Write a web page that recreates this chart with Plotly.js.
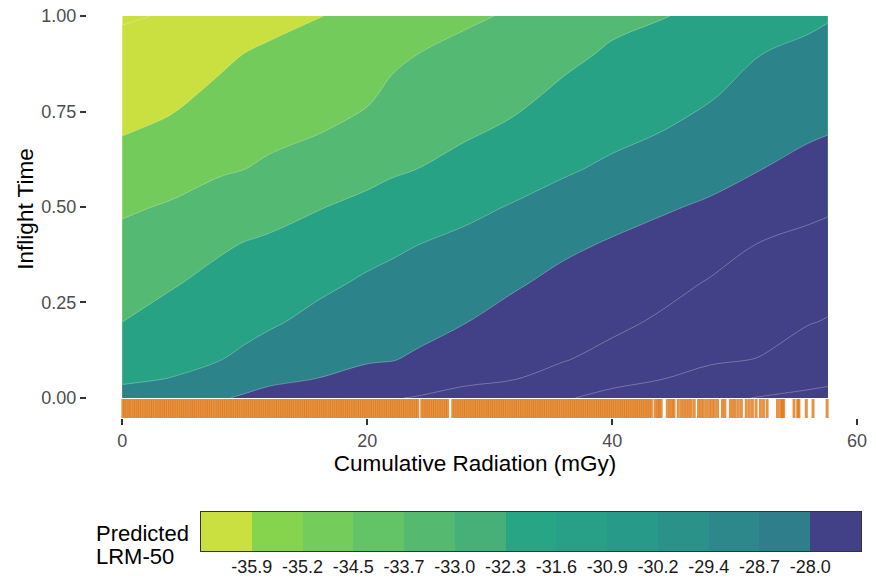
<!DOCTYPE html>
<html>
<head>
<meta charset="utf-8">
<script src="https://cdn.plot.ly/plotly-3.0.1.min.js"></script>
<style>html,body{margin:0;padding:0;background:#fff;}#chart{width:876px;height:584px;}</style>
</head>
<body>
<div id="chart"></div>
<script>
// ---- Data ----
// Grid of the predicted surface
const radiation = [0, 4, 8, 10, 12, 16, 20, 22, 24, 28, 32, 36, 40, 44, 48, 52, 56, 57.6];
const inflightTime = [0, 0.05, 0.1, 0.2, 0.3, 0.4, 0.5, 0.6, 0.7, 0.8, 0.9, 1.0];
// Predicted LRM-50, one row per inflight-time value
const lrm_t000 = [-31.15,-30.75,-30.25,-29.98,-29.69,-29.24,-28.91,-28.76,-28.64,-28.32,-27.92,-27.39,-26.87,-26.41,-26.06,-25.77,-25.63,-25.56];
const lrm_t005 = [-31.76,-31.55,-30.94,-30.69,-30.42,-30.12,-29.70,-29.52,-29.30,-28.93,-28.74,-28.15,-27.65,-27.29,-26.86,-26.50,-26.07,-25.99];
const lrm_t010 = [-32.18,-31.88,-31.60,-31.32,-30.93,-30.49,-30.26,-30.19,-29.97,-29.36,-29.05,-28.77,-28.27,-27.70,-27.41,-27.22,-26.52,-26.39];
const lrm_t020 = [-33.03,-32.51,-32.11,-31.97,-31.77,-31.21,-30.82,-30.70,-30.58,-30.18,-29.67,-29.29,-29.02,-28.52,-28.00,-27.71,-27.34,-27.19];
const lrm_t030 = [-33.55,-33.13,-32.62,-32.46,-32.29,-31.87,-31.38,-31.22,-31.08,-30.72,-30.28,-29.80,-29.51,-29.14,-28.59,-28.18,-27.86,-27.74];
const lrm_t040 = [-34.07,-33.73,-33.18,-32.95,-32.81,-32.47,-32.02,-31.79,-31.59,-31.27,-30.88,-30.38,-30.00,-29.70,-29.27,-28.64,-28.38,-28.28];
const lrm_t050 = [-34.64,-34.34,-33.92,-33.69,-33.48,-33.08,-32.72,-32.52,-32.31,-31.88,-31.49,-31.09,-30.65,-30.28,-29.97,-29.41,-28.98,-28.85];
const lrm_t060 = [-35.34,-34.99,-34.60,-34.47,-34.25,-33.82,-33.40,-33.18,-33.03,-32.58,-32.15,-31.74,-31.36,-30.95,-30.58,-30.18,-29.72,-29.55];
const lrm_t070 = [-35.99,-35.66,-35.13,-34.94,-34.80,-34.53,-34.09,-33.70,-33.51,-33.20,-32.81,-32.27,-31.91,-31.60,-31.16,-30.66,-30.35,-30.22];
const lrm_t080 = [-36.48,-36.23,-35.65,-35.41,-35.27,-35.00,-34.68,-34.23,-33.98,-33.68,-33.36,-32.81,-32.38,-32.09,-31.72,-31.13,-30.84,-30.70];
const lrm_t090 = [-36.97,-36.74,-36.17,-35.88,-35.74,-35.46,-35.16,-34.73,-34.47,-34.16,-33.85,-33.32,-32.85,-32.58,-32.25,-31.60,-31.33,-31.19];
const lrm_t100 = [-37.46,-37.25,-36.69,-36.40,-36.20,-35.93,-35.65,-35.20,-34.94,-34.63,-34.34,-33.82,-33.32,-33.07,-32.79,-32.10,-31.81,-31.67];

// Contour levels drawn in the panel
const levelStart = -37.34, levelEnd = -25.82, levelStep = 1.44;
const bandColors = ['#cadf40','#cadf40','#73cb5c','#54b972','#28a285','#2d838a','#424086','#424086','#424086','#424086'];

// Legend (colour key) breaks and colours
const keyBreaks = [-35.9,-35.2,-34.5,-33.7,-33.0,-32.3,-31.6,-30.9,-30.2,-29.4,-28.7,-28.0];
const keyColors = ['#cadf40','#86d44e','#74cc5b','#63c467','#55ba70','#47b079','#28a585','#27a087','#289a89','#2b928a','#2d888b','#2f7e8c','#424086'];

// Rug of observed cumulative radiation
const rugRadiation = [
0.05,0.2,0.38,0.55,0.71,0.9,1.06,1.24,1.4,1.58,1.77,1.95,2.12,2.3,2.47,2.66,2.83,
3.01,3.17,3.36,3.52,3.7,3.88,4.05,4.22,4.4,4.58,4.76,4.93,5.1,5.27,5.45,5.63,5.8,5.97,
6.15,6.33,6.5,6.68,6.86,7.03,7.2,7.38,7.57,7.75,7.92,8.1,8.27,8.45,8.62,8.8,8.97,
9.15,9.33,9.5,9.68,9.86,10.03,10.21,10.38,10.56,10.74,10.91,11.09,11.26,11.44,11.62,11.8,11.97,
12.14,12.32,12.5,12.67,12.85,13.02,13.2,13.38,13.55,13.73,13.9,14.08,14.26,14.43,14.61,14.79,14.96,
15.13,15.31,15.49,15.66,15.84,16.01,16.19,16.37,16.54,16.72,16.9,17.07,17.25,17.43,17.6,17.78,17.95,
18.13,18.31,18.48,18.66,18.84,19.01,19.19,19.36,19.54,19.72,19.89,20.07,20.25,20.42,20.6,20.78,20.95,
21.12,21.3,21.48,21.65,21.83,22.0,22.18,22.36,22.54,22.71,22.89,23.06,23.24,23.42,23.59,23.77,23.95,
24.12,24.45,24.63,24.8,24.97,25.15,25.33,25.5,25.68,25.86,26.03,26.21,26.39,26.56,26.98,
27.15,27.33,27.5,27.68,27.86,28.03,28.21,28.38,28.56,28.74,28.91,29.09,29.27,29.44,29.62,29.8,29.97,
30.15,30.32,30.5,30.68,30.85,31.03,31.2,31.38,31.56,31.74,31.91,32.09,32.26,32.44,32.62,32.8,32.97,
33.14,33.32,33.5,33.67,33.85,34.03,34.2,34.38,34.55,34.73,34.91,35.08,35.26,35.44,35.61,35.79,35.97,
36.14,36.32,36.5,36.67,36.85,37.02,37.2,37.38,37.56,37.73,37.91,38.08,38.26,38.44,38.62,38.8,38.97,
39.15,39.33,39.5,39.68,39.86,40.03,40.21,40.38,40.56,40.74,40.91,41.09,41.26,41.44,41.62,41.8,41.97,
42.14,42.32,42.5,42.67,42.85,43.02,43.2,43.5,43.7,43.85,44.0,44.5,44.7,44.9,45.05,45.4,45.65,
45.85,46.05,46.25,46.45,46.7,47.05,47.25,47.45,47.7,47.95,48.15,48.35,48.6,49.0,49.2,49.65,49.85,
50.05,50.3,50.55,50.95,51.2,51.45,51.75,52.1,52.35,52.65,53.5,53.75,53.9,54.0,54.85,55.15,55.25,
55.85,56.4,57.55];

// Axis ticks
const xTicks = [0, 20, 40, 60];
const yTicks = [0, 0.25, 0.5, 0.75, 1.0];

// ---- Build traces ----
const zGrid = [lrm_t000,lrm_t005,lrm_t010,lrm_t020,lrm_t030,lrm_t040,lrm_t050,lrm_t060,lrm_t070,lrm_t080,lrm_t090,lrm_t100];
const nBands = bandColors.length - 1;
const contourScale = [];
bandColors.forEach((c, k) => {
  contourScale.push([Math.max(0, (k - 0.5) / nBands), c]);
  contourScale.push([Math.min(1, (k + 0.5) / nBands), c]);
});
const nKey = keyColors.length - 1;
const keyScale = [];
keyColors.forEach((c, k) => {
  keyScale.push([Math.max(0, (k - 0.5) / nKey), c]);
  keyScale.push([Math.min(1, (k + 0.5) / nKey), c]);
});
const keyIdx = keyColors.map((_, i) => i);

const FONT = 'Liberation Sans, Arial, Helvetica, sans-serif';

const contourTrace = {
  type: 'contour', x: radiation, y: inflightTime, z: zGrid,
  autocontour: false,
  contours: {start: levelStart, end: levelEnd, size: levelStep, coloring: 'fill', showlines: true},
  line: {color: 'rgba(255,255,255,0.55)', width: 0.5, smoothing: 1},
  colorscale: contourScale, showscale: false, hoverinfo: 'skip'
};
const rugTrace = {
  type: 'scatter', mode: 'markers', x: rugRadiation,
  y: rugRadiation.map(() => -0.0301),
  marker: {symbol: 'line-ns', size: 15, color: 'rgba(222,120,22,0.8)',
           line: {color: 'rgba(222,120,22,0.8)', width: 3}},
  hoverinfo: 'skip', showlegend: false
};
const keyTrace = {
  type: 'heatmap', x: keyIdx, y: [0], z: [keyIdx],
  xaxis: 'x2', yaxis: 'y2', zmin: 0, zmax: nKey,
  colorscale: keyScale, showscale: false, hoverinfo: 'skip'
};

const W = 876, H = 584, ML = 87, MR = 13, MT = 0, MB = 33;
const PW = W - ML - MR, PH = H - MT - MB;
const px2x = p => (p - ML) / PW;
const py2y = p => (H - MB - p) / PH;

const layout = {
  width: W, height: H,
  margin: {l: ML, r: MR, t: MT, b: MB, pad: 0},
  paper_bgcolor: '#ffffff', plot_bgcolor: 'rgba(0,0,0,0)',
  showlegend: false,
  font: {family: FONT, color: '#000'},
  xaxis: {
    domain: [0, 1], range: [-2.88, 60.48],
    tickvals: xTicks, ticktext: xTicks.map(String),
    ticks: 'outside', ticklen: 6, tickwidth: 2, tickcolor: '#333333',
    tickfont: {size: 18, color: '#4d4d4d', family: FONT},
    showgrid: false, zeroline: false, showline: false,
    title: {text: 'Cumulative Radiation (mGy)', font: {size: 22.5, color: '#000', family: FONT}, standoff: 5},
    automargin: false
  },
  yaxis: {
    domain: [py2y(418), 1], range: [-0.0524, 1.0419],
    tickvals: yTicks, ticktext: yTicks.map(v => v.toFixed(2)),
    ticks: 'outside', ticklen: 6, tickwidth: 2, tickcolor: '#333333',
    tickfont: {size: 18, color: '#4d4d4d', family: FONT},
    showgrid: false, zeroline: false, showline: false,
    title: {text: 'Inflight Time', font: {size: 22.5, color: '#000', family: FONT}, standoff: 1},
    automargin: false
  },
  xaxis2: {
    domain: [px2x(201), px2x(861)], anchor: 'y2', range: [-0.5, nKey + 0.5],
    tickvals: keyBreaks.map((_, i) => i + 0.5), ticktext: keyBreaks.map(v => v.toFixed(1)),
    ticks: '', ticklabelstandoff: -1,
    tickfont: {size: 18, color: '#1a1a1a', family: FONT},
    showgrid: false, zeroline: false, showline: true, mirror: true, linecolor: '#333333', linewidth: 1
  },
  yaxis2: {
    domain: [0, py2y(511.5)], anchor: 'x2', range: [-0.5, 0.5],
    showticklabels: false, ticks: '', showgrid: false, zeroline: false,
    showline: true, mirror: true, linecolor: '#333333', linewidth: 1
  },
  annotations: [
    {text: 'Predicted', xref: 'paper', yref: 'paper', x: px2x(94), y: py2y(533),
     xanchor: 'left', yanchor: 'middle', showarrow: false, font: {size: 22, color: '#000', family: FONT}},
    {text: 'LRM-50', xref: 'paper', yref: 'paper', x: px2x(94), y: py2y(556),
     xanchor: 'left', yanchor: 'middle', showarrow: false, font: {size: 22, color: '#000', family: FONT}}
  ]
};

Plotly.newPlot('chart', [contourTrace, rugTrace, keyTrace], layout, {staticPlot: true, displayModeBar: false});
</script>
</body>
</html>
